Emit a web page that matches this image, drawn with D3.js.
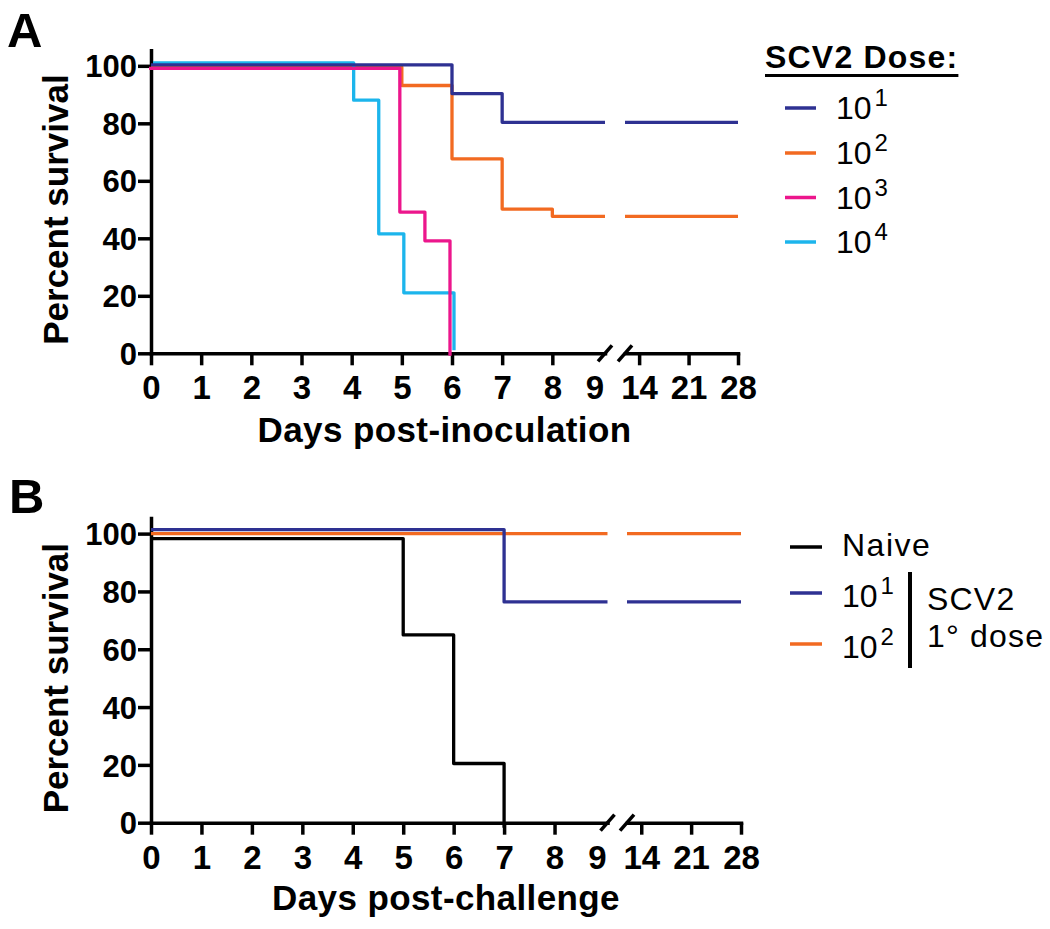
<!DOCTYPE html>
<html><head><meta charset="utf-8">
<script src="https://cdn.jsdelivr.net/npm/d3@7"></script>
<style>body{margin:0;background:#fff}svg{display:block}</style>
</head><body><svg id="c" width="1050" height="929"></svg>
<script>
// ---------- data ----------
const xTicksLeft = [0,1,2,3,4,5,6,7,8,9];
const xTicksRight = [14,21,28];
const yTicks = [0,20,40,60,80,100];

// Panel A: survival after inoculation, by dose (day, percent)
const aDose1 = [[0,100],[6,90],[7,80],[28,80]];
const aDose2 = [[0,100],[5,93.5],[6,68],[7,50.5],[8,48],[28,48]];
const aDose3 = [[0,100],[5,50],[5.5,40],[6,0]];
const aDose4 = [[0,100],[4,87],[4.5,40.5],[5,20],[6,0]];
const aExponents = ["1","2","3","4"];
const aLegendTitle = "SCV2 Dose:";

// Panel B: survival after challenge (day, percent)
const bNaive = [[0,100],[5,66.7],[6,22.2],[7,0]];
const bDose1 = [[0,100],[7,75],[28,75]];
const bDose2 = [[0,100],[28,100]];
const bLabels = ["Naive","10","10"];
const bExponents = ["","1","2"];
const bGroupLabel = ["SCV2","1° dose"];

// ---------- styles ----------
const C = {blue:"#2E3192", orange:"#F26A21", pink:"#EC168C", cyan:"#1CB5EC", black:"#000000"};
const FONT = "'Liberation Sans', Arial, Helvetica, sans-serif";
const svg = d3.select("#c");

function drawPanel(cfg){
  const g = svg.append("g");
  const x1 = d3.scaleLinear().domain([0,9.05]).range(cfg.x1r);
  const x2 = d3.scaleLinear().domain([12,28]).range(cfg.x2r);
  const xAll = d3.scaleLinear().domain([0,9.05,12,28]).range([cfg.x1r[0],cfg.x1r[1],cfg.x2r[0],cfg.x2r[1]]);
  const y = d3.scaleLinear().domain([0,105.4]).range(cfg.yr);
  const y0 = y(0);

  const cid = "clip"+cfg.id;
  const cp = g.append("clipPath").attr("id",cid);
  cp.append("rect").attr("x",0).attr("y",0).attr("width",cfg.x1r[1]).attr("height",929);
  cp.append("rect").attr("x",cfg.x2r[0]).attr("y",0).attr("width",1050-cfg.x2r[0]).attr("height",929);

  const ya = g.append("g").attr("transform",`translate(${cfg.x1r[0]},0)`)
    .call(d3.axisLeft(y).tickValues(yTicks).tickSize(13).tickSizeOuter(0).tickPadding(1));
  const xa1 = g.append("g").attr("transform",`translate(0,${y0})`)
    .call(d3.axisBottom(x1).tickValues(xTicksLeft).tickSize(12).tickSizeOuter(0).tickFormat(d3.format("d")));
  const xa2 = g.append("g").attr("transform",`translate(0,${y0})`)
    .call(d3.axisBottom(x2).tickValues(xTicksRight).tickSize(12).tickSizeOuter(0).tickFormat(d3.format("d")));
  [ya,xa1,xa2].forEach(a=>{
    a.selectAll("path.domain").attr("stroke","#000").attr("stroke-width",3.5).attr("stroke-linecap","square");
    a.selectAll(".tick line").attr("stroke","#000").attr("stroke-width",3.5);
    a.selectAll("text").attr("font-family",FONT).attr("font-weight","bold").attr("fill","#000");
  });
  ya.selectAll("text").attr("font-size",31).attr("dy","0.36em");
  [xa1,xa2].forEach(a=>a.selectAll("text").attr("font-size",33).attr("y",46).attr("dy",0));
  xa1.selectAll(".tick").filter(d=>d===9).each(function(){
    d3.select(this).select("line").remove();
    d3.select(this).select("text").attr("x",-8);
  });
  [cfg.x1r[1], cfg.x2r[0]].forEach(cx=>{
    g.append("line").attr("x1",cx-7).attr("y1",y0+8).attr("x2",cx+7).attr("y2",y0-8)
      .attr("stroke","#000").attr("stroke-width",3.5);
  });

  const line = d3.line().curve(d3.curveStepAfter);
  cfg.series.forEach(s=>{
    line.x(d=>xAll(d[0])+s.dx).y(d=>y(d[1])+s.dy);
    g.append("path").attr("d",line(s.data)).attr("fill","none")
      .attr("stroke",s.color).attr("stroke-width",3.3)
      .attr("stroke-linejoin","round").attr("clip-path",`url(#${cid})`);
  });

  g.append("text").attr("transform",`translate(68,${y(50)}) rotate(-90)`)
    .attr("text-anchor","middle").attr("font-family",FONT).attr("font-weight","bold")
    .attr("font-size",35).text("Percent survival");
  g.append("text").attr("x",(cfg.x1r[0]+cfg.x2r[1])/2).attr("y",cfg.xTitleY)
    .attr("text-anchor","middle").attr("font-family",FONT).attr("font-weight","bold")
    .attr("font-size",35).attr("letter-spacing",0.4).text(cfg.xTitle);
  g.append("text").attr("x",cfg.letterX).attr("y",cfg.letterY)
    .attr("font-family",FONT).attr("font-weight","bold").attr("font-size",49).text(cfg.letter);
  return g;
}

drawPanel({id:"A", x1r:[151,605], x2r:[625,738], yr:[353.3,50.3], xTitleY:442,
  xTitle:"Days post-inoculation", letter:"A", letterX:7, letterY:47,
  series:[
    {data:aDose2, color:C.orange, dx:0, dy:1},
    {data:aDose4, color:C.cyan, dx:2, dy:-3},
    {data:aDose3, color:C.pink, dx:-2, dy:2.5},
    {data:aDose1, color:C.blue, dx:0, dy:-1}
  ]});

drawPanel({id:"B", x1r:[151,607.5], x2r:[627,741], yr:[822.7,518], xTitleY:910,
  xTitle:"Days post-challenge", letter:"B", letterX:9, letterY:513,
  series:[
    {data:bNaive, color:C.black, dx:0, dy:5},
    {data:bDose2, color:C.orange, dx:0, dy:0},
    {data:bDose1, color:C.blue, dx:0, dy:-4}
  ]});

// ---------- legend A ----------
const lgA = svg.append("g");
const tA = lgA.append("text").attr("x",765).attr("y",68).attr("font-family",FONT)
  .attr("font-weight","bold").attr("font-size",32).attr("letter-spacing",1.2).text(aLegendTitle);
const tw = tA.node().getComputedTextLength();
lgA.append("line").attr("x1",765).attr("x2",765+tw).attr("y1",75.5).attr("y2",75.5)
  .attr("stroke","#000").attr("stroke-width",3);
const aColors = [C.blue,C.orange,C.pink,C.cyan];
const aRowY = [108,153,197.5,242];
aExponents.forEach((e,i)=>{
  const yy = aRowY[i];
  lgA.append("line").attr("x1",785).attr("x2",816).attr("y1",yy).attr("y2",yy)
    .attr("stroke",aColors[i]).attr("stroke-width",3.5);
  const t = lgA.append("text").attr("x",836).attr("y",yy+11).attr("font-family",FONT).attr("font-size",32);
  t.append("tspan").text("10");
  t.append("tspan").attr("dx",3).attr("dy",-13).attr("font-size",24).text(e);
});

// ---------- legend B ----------
const lgB = svg.append("g");
const bColors = [C.black,C.blue,C.orange];
const bRowY = [547,593,644];
bLabels.forEach((lab,i)=>{
  const yy = bRowY[i];
  lgB.append("line").attr("x1",790).attr("x2",822).attr("y1",yy).attr("y2",yy)
    .attr("stroke",bColors[i]).attr("stroke-width",3.5);
  const t = lgB.append("text").attr("x",842).attr("y",yy+(i===0?9:14)).attr("font-family",FONT)
    .attr("font-size",32).attr("letter-spacing",i===0?1.5:0);
  t.append("tspan").text(lab);
  if(bExponents[i]) t.append("tspan").attr("dx",3).attr("dy",-13).attr("font-size",24).text(bExponents[i]);
});
lgB.append("line").attr("x1",910).attr("x2",910).attr("y1",572).attr("y2",668)
  .attr("stroke","#000").attr("stroke-width",4);
bGroupLabel.forEach((s,i)=>{
  lgB.append("text").attr("x",927).attr("y",[610,647][i]).attr("font-family",FONT)
    .attr("font-size",32).attr("letter-spacing",1.2).text(s);
});
</script></body></html>
